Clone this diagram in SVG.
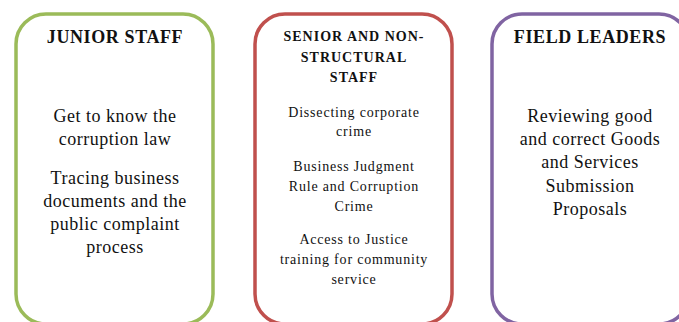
<svg xmlns="http://www.w3.org/2000/svg" width="679" height="322" viewBox="0 0 679 322">
<style>
.box{fill:#ffffff;stroke-width:3.5}
.t{font-family:"Liberation Serif","Times New Roman",serif;fill:#111111;text-anchor:middle}
.h1{font-size:18px;font-weight:bold;letter-spacing:0.6px}
.b1{font-size:18px;letter-spacing:0.5px}
.h2{font-size:14px;font-weight:bold;letter-spacing:1px}
.b2{font-size:14px;letter-spacing:0.8px}
</style>
<rect width="679" height="322" fill="#ffffff"/>
<g id="junior-staff">
<rect class="box" x="16" y="14" width="197" height="310" rx="30" ry="30" stroke="#9BBB59"/>
<text class="t h1" x="115" y="43">JUNIOR STAFF</text>
<text class="t b1" x="115" y="122">Get to know the</text>
<text class="t b1" x="115" y="145">corruption law</text>
<text class="t b1" x="115" y="184">Tracing business</text>
<text class="t b1" x="115" y="207">documents and the</text>
<text class="t b1" x="115" y="230">public complaint</text>
<text class="t b1" x="115" y="253">process</text>
</g>
<g id="senior-staff">
<rect class="box" x="255" y="14" width="197" height="310" rx="30" ry="30" stroke="#C0504D"/>
<text class="t h2" x="354" y="41">SENIOR AND NON-</text>
<text class="t h2" x="354" y="62">STRUCTURAL</text>
<text class="t h2" x="354" y="82">STAFF</text>
<text class="t b2" x="354" y="117">Dissecting corporate</text>
<text class="t b2" x="354" y="136">crime</text>
<text class="t b2" x="354" y="171">Business Judgment</text>
<text class="t b2" x="354" y="191">Rule and Corruption</text>
<text class="t b2" x="354" y="211">Crime</text>
<text class="t b2" x="354" y="244">Access to Justice</text>
<text class="t b2" x="354" y="264">training for community</text>
<text class="t b2" x="354" y="284">service</text>
</g>
<g id="field-leaders">
<rect class="box" x="492" y="14" width="197" height="310" rx="30" ry="30" stroke="#8064A2"/>
<text class="t h1" x="590" y="43">FIELD LEADERS</text>
<text class="t b1" x="590" y="122">Reviewing good</text>
<text class="t b1" x="590" y="145">and correct Goods</text>
<text class="t b1" x="590" y="168">and Services</text>
<text class="t b1" x="590" y="192">Submission</text>
<text class="t b1" x="590" y="215">Proposals</text>
</g>
<g id="connectors"/>
</svg>
